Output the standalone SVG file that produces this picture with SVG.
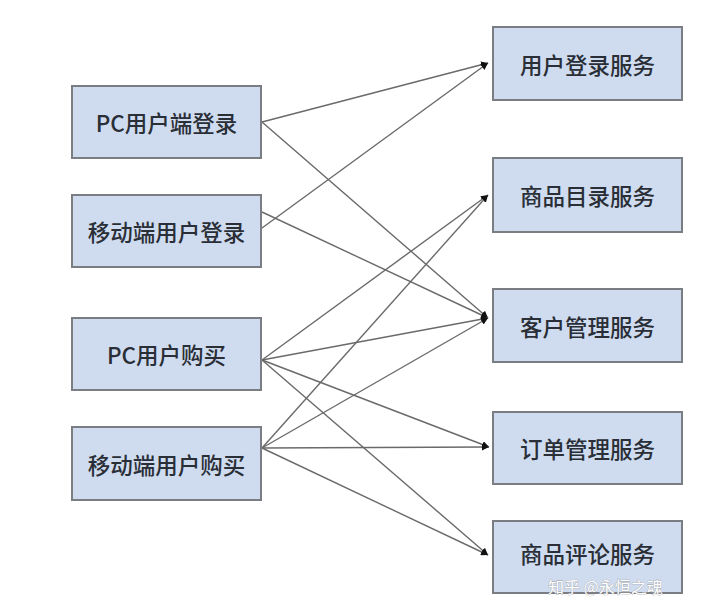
<svg xmlns="http://www.w3.org/2000/svg" width="720" height="607" viewBox="0 0 720 607">
<defs>
<marker id="arr" viewBox="0 0 10 10" refX="10" refY="5" markerWidth="7" markerHeight="7" markerUnits="userSpaceOnUse" orient="auto">
<path d="M0,0 L10,5 L0,10 z" fill="#111"/>
</marker>
<style>
.box{fill:#cfdcf0;stroke:#7a7d82;stroke-width:2}
.lbl{font-family:"Noto Sans CJK SC","Liberation Sans",sans-serif;font-size:22.5px;font-weight:500;fill:#2a2e36;text-anchor:middle;dominant-baseline:central}
.c{stroke:#6a6a6a;stroke-width:1.4;fill:none;marker-end:url(#arr)}
.wm{font-family:"Noto Sans CJK SC","Liberation Sans",sans-serif;font-size:16px;fill:#ffffff;stroke:#9a9a9a;stroke-width:0.6;paint-order:stroke}
</style>
</defs>
<rect width="720" height="607" fill="#ffffff"/>
<g id="connectors">
<line class="c" x1="262" y1="122" x2="488" y2="63"/>
<line class="c" x1="262" y1="122" x2="488" y2="318"/>
<line class="c" x1="262" y1="228" x2="488" y2="63"/>
<line class="c" x1="262" y1="212" x2="488" y2="318"/>
<line class="c" x1="262" y1="360" x2="488" y2="195"/>
<line class="c" x1="262" y1="360" x2="488" y2="318"/>
<line class="c" x1="262" y1="360" x2="489" y2="447"/>
<line class="c" x1="262" y1="360" x2="488" y2="555"/>
<line class="c" x1="262" y1="448" x2="488" y2="195"/>
<line class="c" x1="262" y1="448" x2="488" y2="318"/>
<line class="c" x1="262" y1="448" x2="489" y2="447"/>
<line class="c" x1="262" y1="448" x2="488" y2="555"/>
</g>
<g id="pc-login"><rect class="box" x="72" y="86" width="189" height="72"/><text class="lbl" x="166.5" y="122">PC用户端登录</text></g>
<g id="mobile-login"><rect class="box" x="72" y="195" width="189" height="72"/><text class="lbl" x="166.5" y="231">移动端用户登录</text></g>
<g id="pc-buy"><rect class="box" x="72" y="318" width="189" height="72"/><text class="lbl" x="166.5" y="354">PC用户购买</text></g>
<g id="mobile-buy"><rect class="box" x="72" y="427" width="189" height="73"/><text class="lbl" x="166.5" y="464">移动端用户购买</text></g>
<g id="login-svc"><rect class="box" x="493" y="27" width="189" height="73"/><text class="lbl" x="587.5" y="63.5">用户登录服务</text></g>
<g id="catalog-svc"><rect class="box" x="493" y="158" width="189" height="74"/><text class="lbl" x="587.5" y="195">商品目录服务</text></g>
<g id="customer-svc"><rect class="box" x="493" y="289" width="189" height="73"/><text class="lbl" x="587.5" y="325.5">客户管理服务</text></g>
<g id="order-svc"><rect class="box" x="493" y="412" width="189" height="72"/><text class="lbl" x="587.5" y="448">订单管理服务</text></g>
<g id="review-svc"><rect class="box" x="493" y="521" width="189" height="72"/><text class="lbl" x="587.5" y="553">商品评论服务</text></g>
<text class="wm" x="548" y="593">知乎 @永恒之魂</text>
</svg>
